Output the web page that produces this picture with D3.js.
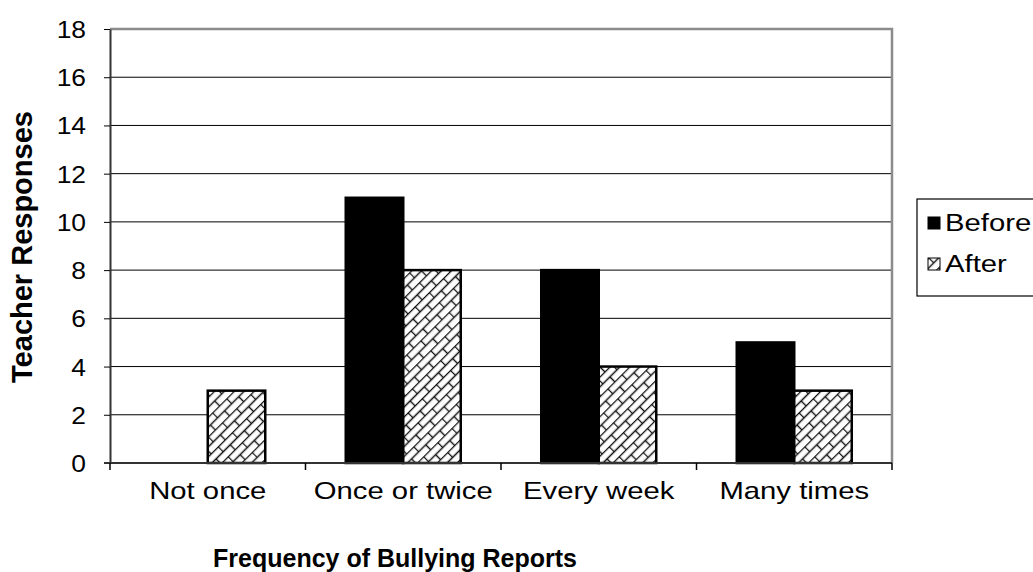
<!DOCTYPE html>
<html>
<head>
<meta charset="utf-8">
<script src="https://cdn.jsdelivr.net/npm/d3@7"></script>
<style>
  html, body { margin: 0; padding: 0; background: #fff; }
  svg { display: block; font-family: "Liberation Sans", Arial, sans-serif; }
</style>
</head>
<body>
<svg id="chart" width="1033" height="572"></svg>
<script>
// Teacher responses on bullying report frequency, before and after
const categories = ["Not once", "Once or twice", "Every week", "Many times"];
const seriesNames = ["Before", "After"];
const beforeValues = [0, 11, 8, 5];
const afterValues = [3, 8, 4, 3];
const yTicks = [0, 2, 4, 6, 8, 10, 12, 14, 16, 18];

const svg = d3.select("#chart");
const plot = { left: 110, right: 892, top: 29, bottom: 463 };
const SX = 1.22; // horizontal widening of the lettering

// Places a text node at (x, y), optionally rotated or horizontally widened
function placeText(sel, x, y, rot, sx) {
  const s = sx === undefined ? SX : sx;
  sel.attr("x", 0).attr("y", 0)
    .attr("transform", `translate(${x},${y})` + (rot ? ` rotate(${rot})` : ` scale(${s},1)`));
}

// Brick hatch used for the "After" series
const defs = svg.append("defs");
const L = 20, H = 7;
const pat = defs.append("pattern")
  .attr("id", "brick")
  .attr("patternUnits", "userSpaceOnUse")
  .attr("width", L).attr("height", 2 * H)
  .attr("patternTransform", "rotate(-45)");
pat.append("rect").attr("width", L).attr("height", 2 * H).attr("fill", "#fff");
pat.append("path")
  .attr("d", `M0,0.5H${L} M0,${H + 0.5}H${L} M0.5,0.5V${H + 0.5} M${L / 2 + 0.5},${H + 0.5}V${2 * H + 0.5}`)
  .attr("stroke", "#111").attr("stroke-width", 1.4).attr("fill", "none");

const x0 = d3.scaleBand().domain(categories).range([plot.left, plot.right]).paddingInner(0).paddingOuter(0);
const x1 = d3.scaleBand().domain(seriesNames).range([0, x0.bandwidth()]).paddingInner(0).paddingOuter(0.7);
const y = d3.scaleLinear().domain([0, 18]).range([plot.bottom, plot.top]);

// Horizontal gridlines
svg.append("g").selectAll("line").data(yTicks.filter(t => t > 0 && t < 18)).join("line")
  .attr("x1", plot.left).attr("x2", plot.right)
  .attr("y1", d => y(d)).attr("y2", d => y(d))
  .attr("stroke", "#000").attr("stroke-width", 1);

// Plot frame (top and right in grey)
svg.append("path")
  .attr("d", `M${plot.left},${y(18)}H${plot.right}V${plot.bottom}`)
  .attr("fill", "none").attr("stroke", "#8c8c8c").attr("stroke-width", 2.5);

const rows = categories.map((c, i) => ({ cat: c, vals: [beforeValues[i], afterValues[i]] }));

const groups = svg.append("g").selectAll("g").data(rows).join("g")
  .attr("transform", d => `translate(${x0(d.cat)},0)`);

groups.selectAll("rect")
  .data(d => d.vals.map((v, j) => ({ name: seriesNames[j], v })).filter(e => e.v > 0))
  .join("rect")
  .attr("x", d => x1(d.name))
  .attr("width", x1.bandwidth())
  .attr("y", d => y(d.v))
  .attr("height", d => y(0) - y(d.v))
  .attr("fill", d => d.name === "Before" ? "#000" : "url(#brick)")
  .attr("stroke", "#000").attr("stroke-width", 2.5);

// Y axis
const yAxis = svg.append("g")
  .attr("transform", `translate(${plot.left},0)`)
  .call(d3.axisLeft(y).tickValues(yTicks).tickSize(6).tickSizeOuter(0));
yAxis.select(".domain").attr("stroke", "#333").attr("stroke-width", 2);
yAxis.selectAll(".tick line").attr("stroke", "#000");
yAxis.selectAll(".tick text")
  .attr("font-size", 24).attr("fill", "#000")
  .attr("font-family", "Liberation Sans, Arial, sans-serif")
  .attr("dy", null)
  .each(function () { placeText(d3.select(this), -24, 8.5, 0, 1.1); });

// X axis with ticks at category boundaries
const xAxis = svg.append("g")
  .attr("transform", `translate(0,${plot.bottom})`);
xAxis.append("line").attr("x1", plot.left - 6).attr("x2", plot.right)
  .attr("stroke", "#333").attr("stroke-width", 2);
const bounds = categories.map(c => x0(c)).concat([plot.right]);
xAxis.selectAll("line.tk").data(bounds).join("line").attr("class", "tk")
  .attr("x1", d => d).attr("x2", d => d).attr("y1", 0).attr("y2", 7)
  .attr("stroke", "#000").attr("stroke-width", 1.5);
xAxis.selectAll("text").data(categories).join("text")
  .attr("text-anchor", "middle")
  .attr("font-size", 24)
  .text(d => d)
  .each(function (d) { placeText(d3.select(this), x0(d) + x0.bandwidth() / 2, 36); });

// Axis titles
svg.append("text")
  .attr("text-anchor", "middle").attr("font-weight", "bold").attr("font-size", 25)
  .text("Frequency of Bullying Reports")
  .call(s => placeText(s, 395, 567, 0, 1));
svg.append("text")
  .attr("text-anchor", "middle").attr("font-weight", "bold").attr("font-size", 29)
  .text("Teacher Responses")
  .call(s => placeText(s, 32, (plot.top + plot.bottom) / 2 + 1, -90));

// Legend
const legend = svg.append("g").attr("transform", "translate(917,199)");
legend.append("rect").attr("x", 0).attr("y", 0).attr("width", 140).attr("height", 97)
  .attr("fill", "#fff").attr("stroke", "#000").attr("stroke-width", 1.2);
const li = legend.selectAll("g").data(seriesNames).join("g")
  .attr("transform", (d, i) => `translate(11,${18 + i * 41})`);
li.append("rect").attr("width", 12).attr("height", 12)
  .attr("fill", d => d === "Before" ? "#000" : "url(#brick)")
  .attr("stroke", "#000").attr("stroke-width", 1);
li.append("text").attr("font-size", 24).text(d => d)
  .each(function () { placeText(d3.select(this), 17, 14); });
</script>
</body>
</html>
